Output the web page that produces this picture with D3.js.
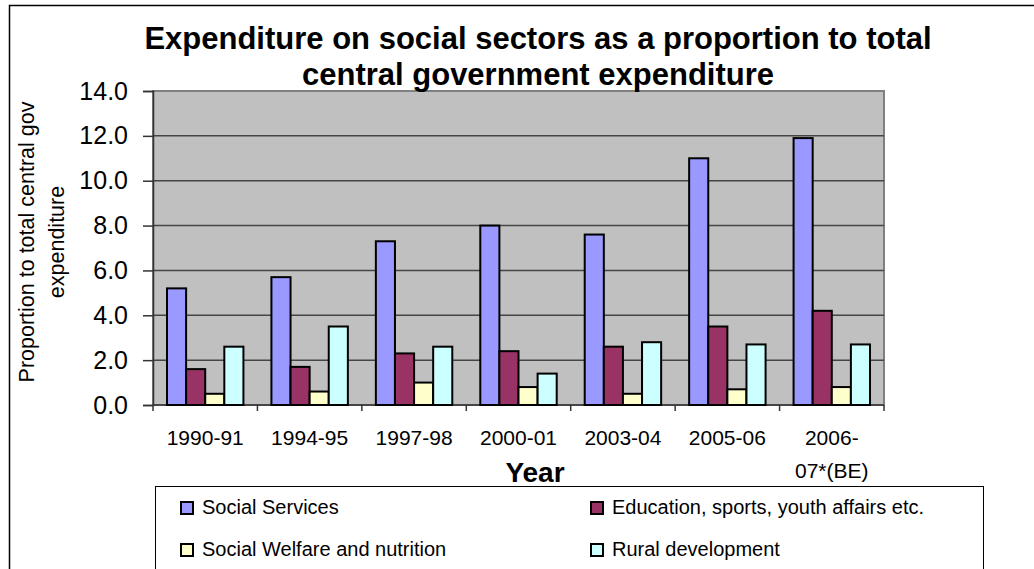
<!DOCTYPE html>
<html>
<head>
<meta charset="utf-8">
<script src="https://cdn.jsdelivr.net/npm/d3@7"></script>
<style>
  body { margin: 0; background: #fff; }
  svg { display: block; font-family: Arial, "Liberation Sans", sans-serif; }
</style>
</head>
<body>
<svg id="chart" width="1034" height="569"></svg>
<script>
// data
const years = ["1990-91", "1994-95", "1997-98", "2000-01", "2003-04", "2005-06", "2006-07*(BE)"];
const yearLines = [["1990-91"], ["1994-95"], ["1997-98"], ["2000-01"], ["2003-04"], ["2005-06"], ["2006-", "07*(BE)"]];
const seriesNames = ["Social Services", "Education, sports, youth affairs etc.", "Social Welfare and nutrition", "Rural development"];
const socialServices = [5.2, 5.7, 7.3, 8.0, 7.6, 11.0, 11.9];
const education = [1.6, 1.7, 2.3, 2.4, 2.6, 3.5, 4.2];
const socialWelfare = [0.5, 0.6, 1.0, 0.8, 0.5, 0.7, 0.8];
const ruralDev = [2.6, 3.5, 2.6, 1.4, 2.8, 2.7, 2.7];
const yTicks = [0, 2, 4, 6, 8, 10, 12, 14];
const colors = ["#9999ff", "#993366", "#ffffcc", "#ccffff"];

const seriesValues = [socialServices, education, socialWelfare, ruralDev];
const rows = years.map((y, i) => ({
  year: y,
  lines: yearLines[i],
  values: seriesValues.map((s, k) => ({ key: seriesNames[k], value: s[i], color: colors[k] }))
}));

const svg = d3.select("#chart");
const plot = { left: 153, right: 884, top: 91, bottom: 405 };

// outer chart border (runs off the right and bottom edges)
svg.append("rect")
  .attr("x", 9.5).attr("y", 5.5)
  .attr("width", 1100).attr("height", 700)
  .attr("fill", "none").attr("stroke", "#000").attr("stroke-width", 1.5);

// scales
const x0 = d3.scaleBand().domain(years).range([plot.left, plot.right]);
const x1 = d3.scaleBand().domain(seriesNames).range([14, x0.bandwidth() - 14]);
const y = d3.scaleLinear().domain([0, 14]).range([plot.bottom, plot.top]);

// plot area
svg.append("rect")
  .attr("x", plot.left).attr("y", plot.top)
  .attr("width", plot.right - plot.left).attr("height", plot.bottom - plot.top)
  .attr("fill", "#c0c0c0").attr("stroke", "#808080").attr("stroke-width", 2);

// gridlines
svg.append("g")
  .selectAll("line")
  .data(yTicks.filter((t) => t > 0 && t < 14))
  .join("line")
  .attr("x1", plot.left).attr("x2", plot.right)
  .attr("y1", (d) => y(d)).attr("y2", (d) => y(d))
  .attr("stroke", "#454545").attr("stroke-width", 1.5);

// y axis
const yAxis = svg.append("g")
  .attr("transform", `translate(${plot.left},0)`)
  .call(d3.axisLeft(y).tickValues(yTicks).tickFormat(d3.format(".1f")).tickSize(10).tickPadding(15));
yAxis.select(".domain").attr("stroke", "#333").attr("stroke-width", 1.5);
yAxis.selectAll(".tick line").attr("stroke", "#333").attr("stroke-width", 1.5);
yAxis.selectAll(".tick text")
  .attr("font-size", 25)
  .attr("font-family", "Arial, 'Liberation Sans', sans-serif")
  .attr("fill", "#000");

// x axis: ticks between categories
const xAxis = svg.append("g");
xAxis.append("line")
  .attr("x1", plot.left).attr("x2", plot.right)
  .attr("y1", plot.bottom).attr("y2", plot.bottom)
  .attr("stroke", "#333").attr("stroke-width", 1.5);
xAxis.selectAll("line.tick")
  .data(years.concat(["end"]))
  .join("line")
  .attr("class", "tick")
  .attr("x1", (d, i) => (i < years.length ? x0(d) : plot.right))
  .attr("x2", (d, i) => (i < years.length ? x0(d) : plot.right))
  .attr("y1", plot.bottom).attr("y2", plot.bottom + 6)
  .attr("stroke", "#333").attr("stroke-width", 1.5);

// x labels
const xLabel = xAxis.selectAll("text.xl")
  .data(rows)
  .join("text")
  .attr("class", "xl")
  .attr("text-anchor", "middle")
  .attr("font-size", 21);
xLabel.selectAll("tspan")
  .data((d) => d.lines.map((l) => ({ l, cx: x0(d.year) + x0.bandwidth() / 2 })))
  .join("tspan")
  .attr("x", (d) => d.cx)
  .attr("y", (d, i) => 445 + i * 33)
  .text((d) => d.l);

// bars
const groups = svg.append("g")
  .selectAll("g")
  .data(rows)
  .join("g")
  .attr("transform", (d) => `translate(${x0(d.year)},0)`);

groups.selectAll("rect")
  .data((d) => d.values)
  .join("rect")
  .attr("x", (d) => x1(d.key))
  .attr("width", x1.bandwidth())
  .attr("y", (d) => y(d.value))
  .attr("height", (d) => y(0) - y(d.value))
  .attr("fill", (d) => d.color)
  .attr("stroke", "#000")
  .attr("stroke-width", 2);

// axis titles
svg.append("text")
  .attr("x", 535).attr("y", 482)
  .attr("text-anchor", "middle")
  .attr("font-weight", "bold")
  .attr("font-size", 28)
  .text("Year");

svg.append("text")
  .attr("transform", "translate(0,242) rotate(-90)")
  .attr("text-anchor", "middle")
  .attr("font-size", 21.5)
  .selectAll("tspan")
  .data(["Proportion to total central gov", "expenditure"])
  .join("tspan")
  .attr("x", 0)
  .attr("y", (d, i) => 34 + i * 30)
  .text((d) => d);

// legend
svg.append("rect")
  .attr("x", 155.5).attr("y", 486.5)
  .attr("width", 828).attr("height", 120)
  .attr("fill", "#fff").attr("stroke", "#000").attr("stroke-width", 1);

const legendPos = [[181, 502], [591, 502], [181, 544], [591, 544]];
const legend = svg.append("g")
  .selectAll("g")
  .data(seriesNames)
  .join("g")
  .attr("transform", (d, i) => `translate(${legendPos[i][0]},${legendPos[i][1]})`);

legend.append("rect")
  .attr("width", 12).attr("height", 12)
  .attr("fill", (d, i) => colors[i])
  .attr("stroke", "#000").attr("stroke-width", 2);

legend.append("text")
  .attr("x", 21).attr("y", 12)
  .attr("font-size", 20)
  .text((d) => d);

// title, drawn last so its descenders sit over the plot area
svg.append("text")
  .attr("text-anchor", "middle")
  .attr("font-weight", "bold")
  .attr("font-size", 31)
  .selectAll("tspan")
  .data(["Expenditure on social sectors as a proportion to total", "central government expenditure"])
  .join("tspan")
  .attr("x", 538)
  .attr("y", (d, i) => 49 + i * 36)
  .text((d) => d);
</script>
</body>
</html>
